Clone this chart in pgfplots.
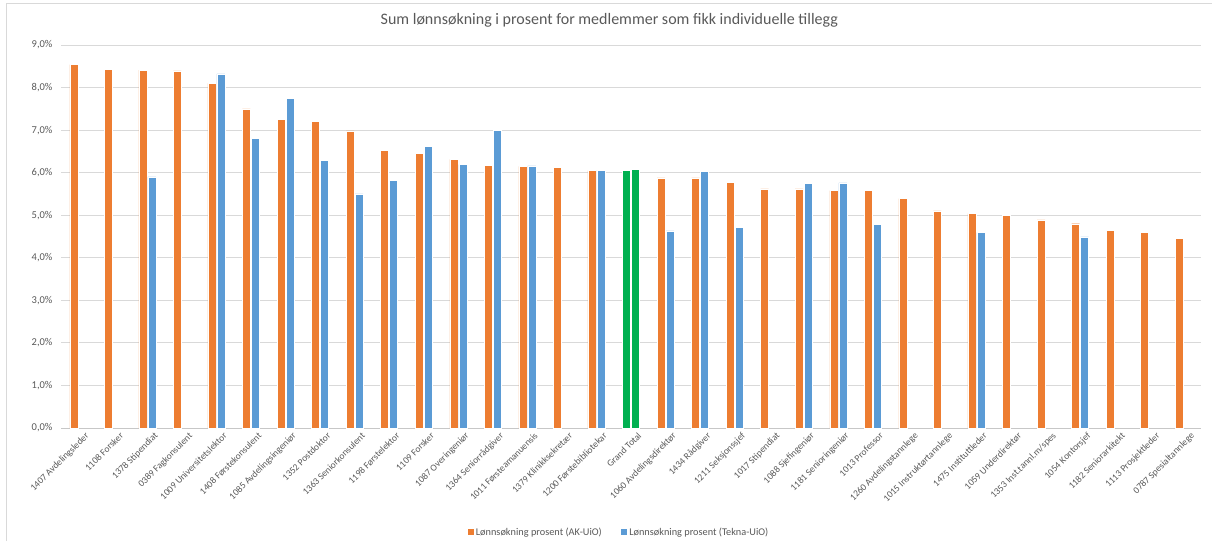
\documentclass[border=0pt]{standalone}
\usepackage{pgfplots}
\pgfplotsset{compat=1.18}
\usepackage{fontspec}
\setmainfont{Carlito}
\definecolor{xlorange}{HTML}{ED7D31}
\definecolor{xlblue}{HTML}{5B9BD5}
\definecolor{xlgreen}{HTML}{00B050}
\definecolor{xltext}{HTML}{595959}
\definecolor{xlgrid}{HTML}{D9D9D9}
\begin{document}
\begin{tikzpicture}
\path[use as bounding box] (0,0) rectangle (1212pt,541pt);
\draw[xlgrid, line width=0.8pt] (6pt,0) -- (6pt,538pt) -- (1212pt,538pt);
\begin{axis}[
  at={(61pt,113pt)}, anchor=south west,
  scale only axis, width=1140pt, height=383pt,
  ymin=0, ymax=9, ytick={0,1,...,9},
  xmin=-0.5, xmax=32.5,
  xtick={0,...,32},
  xticklabels={1407 Avdelingsleder,1108 Forsker,1378 Stipendiat,0389 Fagkonsulent,1009 Universitetslektor,1408 Førstekonsulent,1085 Avdelingsingeniør,1352 Postdoktor,1363 Seniorkonsulent,1198 Førstelektor,1109 Forsker,1087 Overingeniør,1364 Seniorrådgiver,1011 Førsteamanuensis,1379 Klinikksekretær,1200 Førstebibliotekar,Grand Total,1060 Avdelingsdirektør,1434 Rådgiver,1211 Seksjonssjef,1017 Stipendiat,1088 Sjefingeniør,1181 Senioringeniør,1013 Professor,1260 Avdelingstannlege,1015 Instruktørtannlege,1475 Instituttleder,1059 Underdirektør,1353 Inst.tannl.m/spes,1054 Kontorsjef,1182 Seniorarkitekt,1113 Prosjektleder,0787 Spesialtannlege},
  xticklabel style={rotate=45, anchor=north east, font=\fontsize{9.5}{11}\selectfont, text=xltext, inner sep=1pt, xshift=3pt, yshift=-6pt},
  yticklabel={\pgfmathprintnumber[fixed,fixed zerofill,precision=1,use comma]{\tick}\%},
  yticklabel style={font=\fontsize{10.5}{12}\selectfont, text=xltext, xshift=-5pt},
  /pgf/number format/assume math mode=true,
  ymajorgrids, grid style={xlgrid, line width=0.8pt},
  axis line style={draw=none},
  extra y ticks={0}, extra y tick labels={},
  extra y tick style={grid style={xlgrid!80!gray, line width=0.8pt}},
  major tick length=0pt,
  clip=false,
  ybar, bar width=8pt,
  title={Sum lønnsøkning i prosent for medlemmer som fikk individuelle tillegg},
  title style={font=\fontsize{16}{18}\selectfont, text=xltext, at={(0.481,1)}, yshift=8pt},
  legend style={at={(0.489,-0.2715)}, anchor=center, draw=none, legend columns=2, font=\fontsize{10.3}{12}\selectfont, text=xltext, /tikz/every even column/.append style={column sep=16pt}},
  legend image code/.code={\fill[#1] (0pt,-3.5pt) rectangle (7pt,3.5pt);},
]
\addplot[fill=xlorange, draw=white, line width=0.4pt, bar shift=-4.5pt] coordinates {
(0,8.54) (1,8.43) (2,8.41) (3,8.39) (4,8.10) (5,7.50) (6,7.26) (7,7.20) (8,6.98) (9,6.53)
(10,6.45) (11,6.31) (12,6.17) (13,6.15) (14,6.13) (15,6.05)
(17,5.88) (18,5.88) (19,5.77) (20,5.62) (21,5.62) (22,5.58) (23,5.58) (24,5.39) (25,5.10)
(26,5.04) (27,5.00) (28,4.89) (29,4.80) (30,4.65) (31,4.60) (32,4.46)};
\addlegendentry{Lønnsøkning prosent (AK-UiO)}
\addplot[fill=xlblue, draw=white, line width=0.4pt, bar shift=4.5pt] coordinates {
(2,5.90) (4,8.32) (5,6.80) (6,7.75) (7,6.29) (8,5.50) (9,5.82)
(10,6.62) (11,6.19) (12,7.00) (13,6.16) (15,6.05)
(17,4.63) (18,6.03) (19,4.71) (21,5.75) (22,5.76) (23,4.78)
(26,4.59) (29,4.49)};
\addlegendentry{Lønnsøkning prosent (Tekna-UiO)}
\addplot[forget plot, fill=xlgreen, draw=white, line width=0.4pt, bar shift=-4.5pt] coordinates {(16,6.05)};
\addplot[forget plot, fill=xlgreen, draw=white, line width=0.4pt, bar shift=4.5pt] coordinates {(16,6.09)};
\end{axis}
\end{tikzpicture}
\end{document}
